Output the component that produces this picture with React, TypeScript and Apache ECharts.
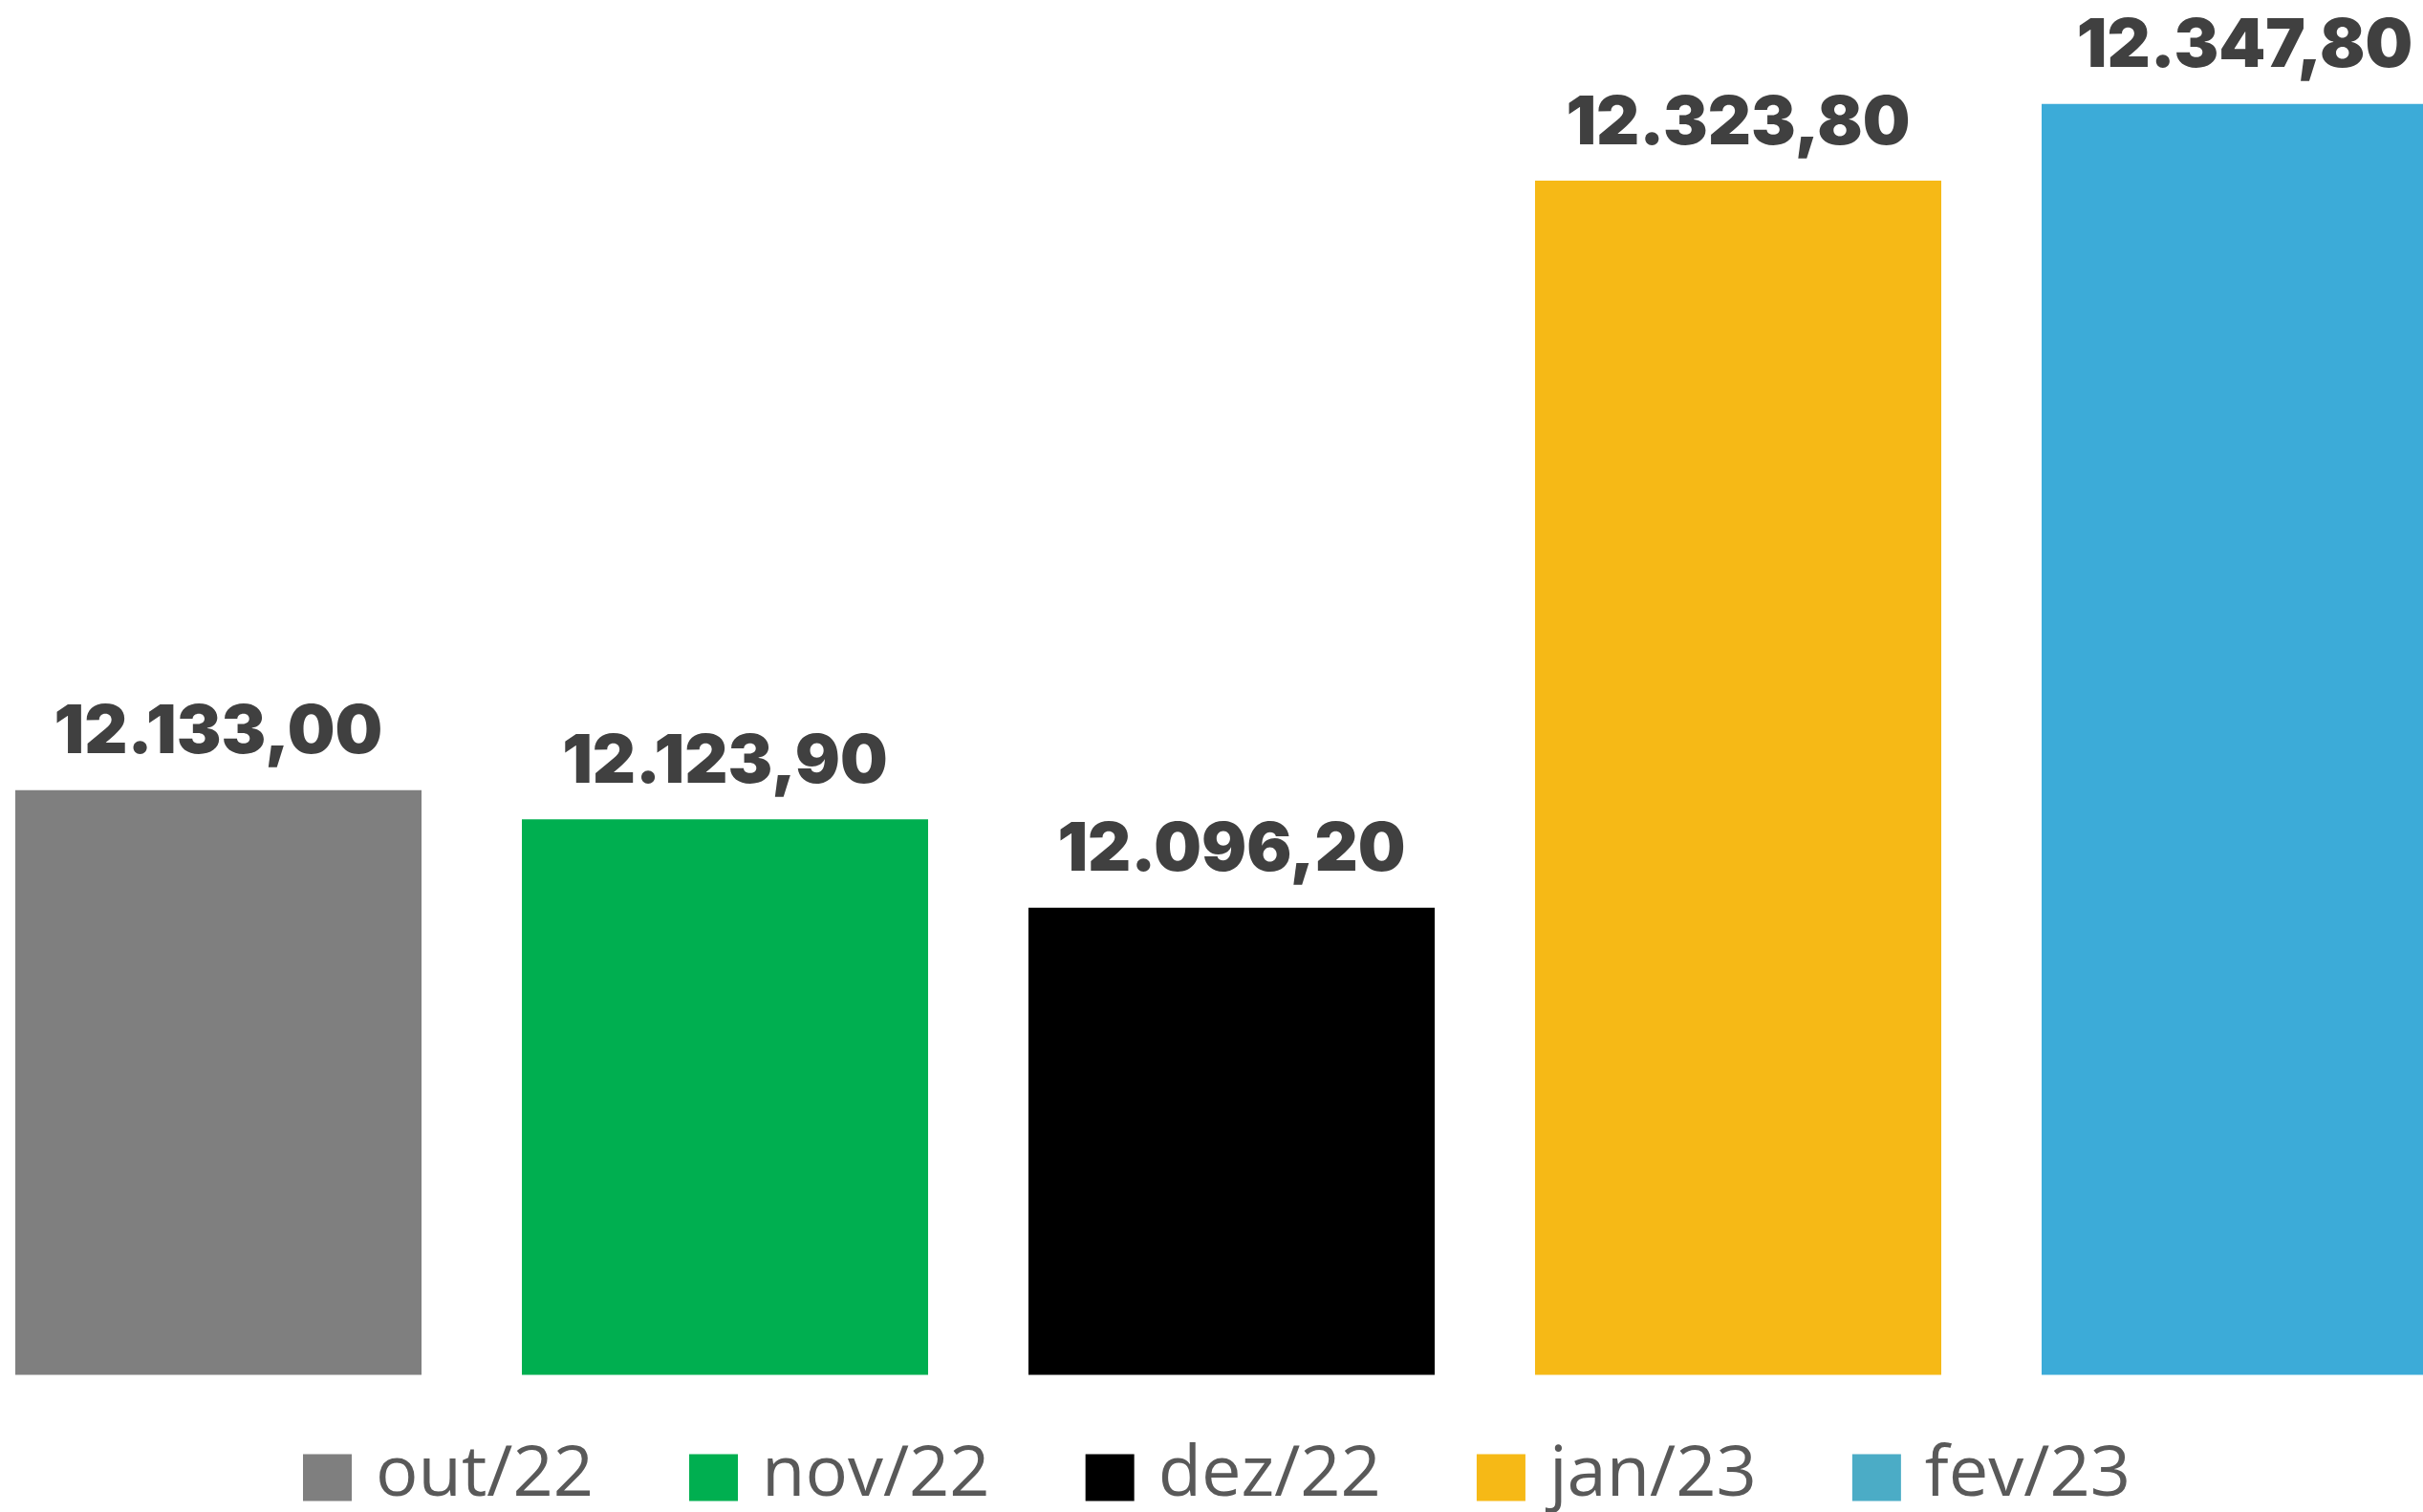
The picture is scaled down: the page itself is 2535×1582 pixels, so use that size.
import React, { useEffect, useRef } from "react";
import * as echarts from "echarts";

const categories = ["out/22", "nov/22", "dez/22", "jan/23", "fev/23"];
const values = [12133.0, 12123.9, 12096.2, 12323.8, 12347.8];
const barColors = ["#7F7F7F", "#00AF50", "#000000", "#F6B916", "#3CABD8"];
const legendColors = ["#7F7F7F", "#00AF50", "#000000", "#F6B916", "#4BACC6"];

function fmt(v: number): string {
  const fixed = v.toFixed(2);
  const [intPart, dec] = fixed.split(".");
  const withDots = intPart.replace(/\B(?=(\d{3})+(?!\d))/g, ".");
  return withDots + "," + dec;
}

export default function App() {
  const ref = useRef<HTMLDivElement>(null);
  useEffect(() => {
    if (!ref.current) return;
    const chart = echarts.init(ref.current, null, { renderer: "svg" });
    const series = categories.map((name, i) => ({
      name,
      type: "bar",
      barWidth: 425,
      barGap: "-100%",
      data: categories.map((_, j) => (j === i ? values[i] : "-")),
      itemStyle: { color: barColors[i] },
      label: {
        show: true,
        position: "top",
        distance: 29,
        formatter: (p: any) => fmt(p.value),
        fontFamily: "Inter",
        fontWeight: 900,
        fontSize: 70,
        color: "#404040",
      },
    }));
    chart.setOption({
      animation: false,
      backgroundColor: "#FFFFFF",
      grid: {
        left: -36.5,
        width: 2650,
        top: 101.5,
        height: 1337,
        outerBoundsMode: "none",
        containLabel: false,
      },
      xAxis: {
        type: "category",
        data: categories,
        axisLine: { show: false },
        axisTick: { show: false },
        axisLabel: { show: false },
      },
      yAxis: {
        type: "value",
        min: 11950,
        max: 12350,
        show: false,
        splitLine: { show: false },
      },
      legend: {
        left: 312,
        top: 1494,
        itemWidth: 51,
        itemHeight: 49,
        itemGap: 100,
        icon: "rect",
        formatter: (name: string) => "{t|" + name + "}",
        data: categories.map((name, i) => ({
          name,
          itemStyle: { color: legendColors[i] },
        })),
        textStyle: {
          fontFamily: "Open Sans",
          fontSize: 74,
          color: "#595959",
          rich: {
            t: {
              fontFamily: "Open Sans",
              fontSize: 74,
              color: "#595959",
              padding: [0, 0, 20, 20],
            },
          },
        },
      },
      series,
    });
    return () => chart.dispose();
  }, []);
  return (
    <div
      ref={ref}
      style={{ position: "fixed", left: 0, top: 0, width: 2535, height: 1582 }}
    />
  );
}
